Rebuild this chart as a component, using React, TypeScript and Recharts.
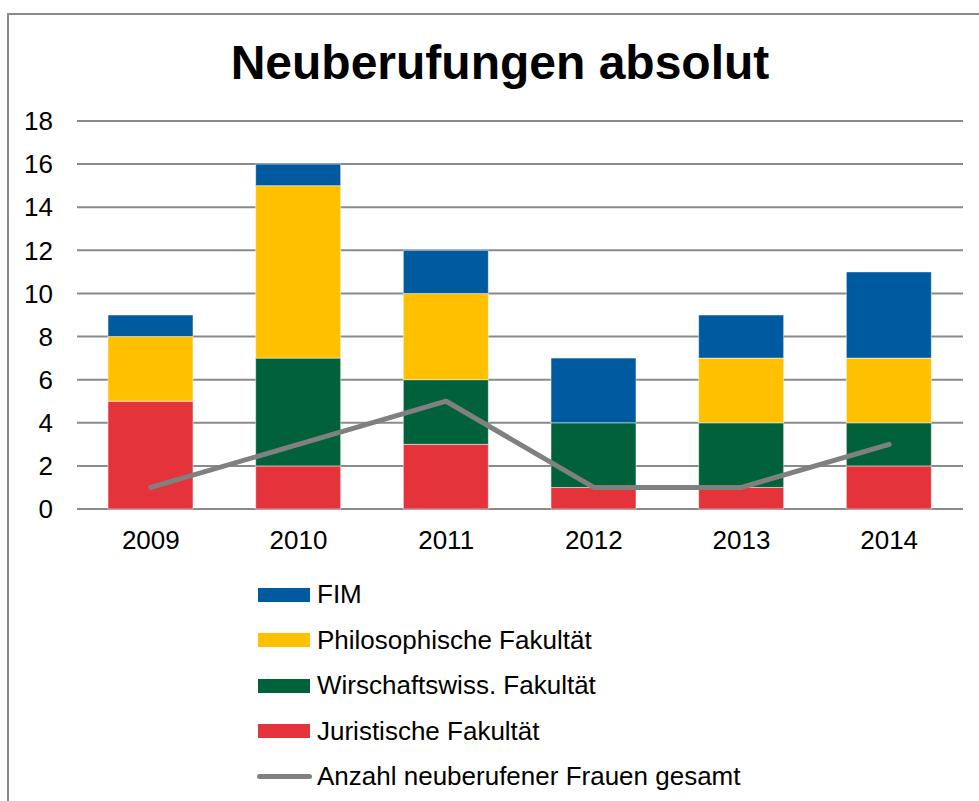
import React from "react";
import {
  ComposedChart,
  Bar,
  Line,
  XAxis,
  YAxis,
  CartesianGrid,
  Legend,
} from "recharts";

const years = ["2009", "2010", "2011", "2012", "2013", "2014"];
const juristische = [5, 2, 3, 1, 1, 2];
const wirtschaft = [0, 5, 3, 3, 3, 2];
const philosophische = [3, 8, 4, 0, 3, 3];
const fim = [1, 1, 2, 3, 2, 4];
const frauen = [1, 3, 5, 1, 1, 3];
const yTicks = [0, 2, 4, 6, 8, 10, 12, 14, 16, 18];

const FONT = "'Liberation Sans', Arial, sans-serif";
const GRID = "#8a8a8a";

const data = years.map((year, i) => ({
  year,
  jur: juristische[i],
  wirt: wirtschaft[i],
  phil: philosophische[i],
  fim: fim[i],
  frauen: frauen[i],
}));

const legendItems = [
  { label: "FIM", color: "#005AA0", line: false },
  { label: "Philosophische Fakultät", color: "#FFC000", line: false },
  { label: "Wirschaftswiss. Fakultät", color: "#00613A", line: false },
  { label: "Juristische Fakultät", color: "#E4333A", line: false },
  { label: "Anzahl neuberufener Frauen gesamt", color: "#808080", line: true },
];

function ChartLegend() {
  return (
    <div style={{ fontFamily: FONT, fontSize: 26, color: "#000" }}>
      {legendItems.map((item) => (
        <div
          key={item.label}
          style={{ display: "flex", alignItems: "center", height: 45.5 }}
        >
          {item.line ? (
            <div
              style={{
                width: 55,
                height: 5,
                borderRadius: 3,
                background: item.color,
                marginRight: 5,
              }}
            />
          ) : (
            <div
              style={{
                width: 52,
                height: 14,
                background: item.color,
                marginLeft: 1,
                marginRight: 7,
              }}
            />
          )}
          <span style={{ whiteSpace: "nowrap" }}>{item.label}</span>
        </div>
      ))}
    </div>
  );
}

export default function App() {
  return (
    <div style={{ position: "absolute", left: 0, top: 0, width: 979, height: 801, overflow: "hidden", background: "#fff" }}>
      <div
        style={{
          position: "absolute",
          left: 7,
          top: 13,
          width: 980,
          height: 800,
          borderTop: `2px solid ${GRID}`,
          borderLeft: `2px solid ${GRID}`,
        }}
      />
      <div
        style={{
          position: "absolute",
          left: 0,
          top: 39,
          width: 1000,
          textAlign: "center",
          fontFamily: FONT,
          fontWeight: "bold",
          fontSize: 48,
          lineHeight: "48px",
          color: "#000",
        }}
      >
        Neuberufungen absolut
      </div>
      <div style={{ position: "absolute", left: 0, top: 0 }}>
        <ComposedChart
          width={979}
          height={801}
          data={data}
          margin={{ top: 121, right: 16, bottom: 262, left: 0 }}
        >
          <CartesianGrid vertical={false} stroke={GRID} strokeWidth={2} />
          <XAxis
            dataKey="year"
            axisLine={false}
            tickLine={false}
            tickSize={0}
            tickMargin={22}
            tick={{ fill: "#000", fontSize: 26, fontFamily: FONT }}
          />
          <YAxis
            width={77}
            domain={[0, 18]}
            ticks={yTicks}
            axisLine={false}
            tickLine={false}
            tickSize={0}
            tickMargin={24}
            tick={{ fill: "#000", fontSize: 26, fontFamily: FONT }}
          />
          <Bar dataKey="jur" stackId="a" fill="#E4333A" barSize={85} stroke="#fff" strokeWidth={0.5} isAnimationActive={false} />
          <Bar dataKey="wirt" stackId="a" fill="#00613A" barSize={85} stroke="#fff" strokeWidth={0.5} isAnimationActive={false} />
          <Bar dataKey="phil" stackId="a" fill="#FFC000" barSize={85} stroke="#fff" strokeWidth={0.5} isAnimationActive={false} />
          <Bar dataKey="fim" stackId="a" fill="#005AA0" barSize={85} stroke="#fff" strokeWidth={0.5} isAnimationActive={false} />
          <Line
            dataKey="frauen"
            stroke="#808080"
            strokeWidth={5}
            strokeLinecap="round"
            strokeLinejoin="round"
            dot={false}
            activeDot={false}
            isAnimationActive={false}
          />
          <Legend
            layout="vertical"
            align="center"
            verticalAlign="middle"
            content={() => <ChartLegend />}
            wrapperStyle={{ left: 257, top: 572, width: 600, height: 230 }}
          />
        </ComposedChart>
      </div>
    </div>
  );
}
